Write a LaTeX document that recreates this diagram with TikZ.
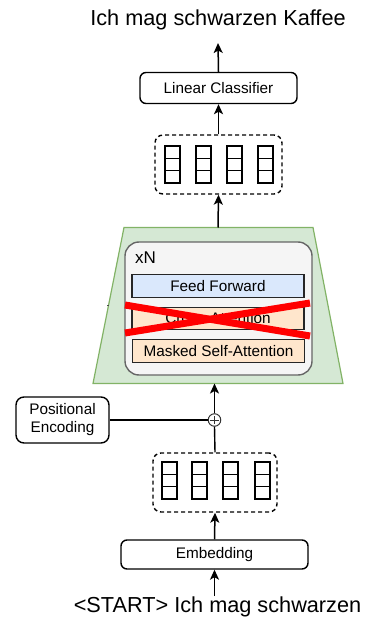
\documentclass[tikz,border=0pt]{standalone}
\usepackage{fontspec}
\setmainfont{Liberation Sans}
\usetikzlibrary{arrows.meta}
\definecolor{stackfill}{HTML}{D5E8D4}
\definecolor{stackline}{HTML}{82B366}
\definecolor{layerfill}{HTML}{F5F5F5}
\definecolor{layerline}{HTML}{666666}
\definecolor{ffill}{HTML}{DAE8FC}
\definecolor{attfill}{HTML}{FFE6CC}
\tikzset{
  x=1pt, y=-1pt,
  box/.style={draw=black, line width=1.4pt, rounded corners=6pt, fill=white,
    inner sep=0pt, font=\fontsize{15.3}{18}\selectfont, align=center},
  sublayer/.style={draw=black!85, line width=1.3pt, inner sep=0pt,
    minimum width=172pt, minimum height=22.5pt, font=\fontsize{15.3}{18}\selectfont},
  vecgroup/.style={draw=black, line width=1.4pt, dash pattern=on 4pt off 3pt,
    rounded corners=8pt, inner sep=0pt},
  bigtext/.style={font=\fontsize{21.7}{24}\selectfont, inner sep=0pt},
  flow/.style={line width=1.5pt, -{Stealth[length=10pt,width=9pt,inset=2.5pt]}},
  plain/.style={line width=1.4pt},
  cell/.style={draw=black, line width=1.4pt}
}
\begin{document}
\begin{tikzpicture}
\useasboundingbox (0,0) rectangle (365,628);

% output sentence and classifier
\node[bigtext, anchor=base] (out) at (218,26) {Ich mag schwarzen Kaffee};
\node[box, minimum width=157pt, minimum height=31pt] (cls) at (218.5,88) {Linear Classifier};

% decoder output vectors
\node[vecgroup, minimum width=127pt, minimum height=59pt] (vtop) at (218.5,164.5) {};
\foreach \x in {165,196,227,258}{
  \draw[cell] (\x,146) rectangle ++(15,37);
  \draw[cell] (\x,158.3) -- ++(15,0) (\x,170.7) -- ++(15,0);
}

% decoder stack
\coordinate (stacktop) at (218,227.5);
\coordinate (stackbot) at (214.5,383.5);
\draw[fill=stackfill, draw=stackline, line width=1.2pt]
  (124,227.5) -- (313,227.5) -- (343,383.5) -- (93,383.5) -- cycle;
\draw[line width=0.7pt, black!70] (107,305) -- (109,305);
\node[draw=layerline, fill=layerfill, line width=1.4pt, rounded corners=14pt,
  minimum width=187pt, minimum height=133pt, inner sep=0pt] (layer) at (218.5,308.5) {};
\node[font=\fontsize{17}{20}\selectfont, anchor=base west, inner sep=0pt] (rep) at (135,263) {xN};
\node[sublayer, fill=ffill] (ff) at (218,286) {Feed Forward};
\node[sublayer, fill=attfill] (cross) at (218,318.5) {Cross-Attention};
\node[sublayer, fill=attfill] (masked) at (218.5,351) {Masked Self-Attention};

% struck-out cross-attention
\coordinate (xa) at (125,305);
\coordinate (xb) at (310,336);
\coordinate (xc) at (125,333);
\coordinate (xd) at (310,303);
\draw[red, line width=7pt] (xa) -- (xb);
\draw[red, line width=7pt] (xc) -- (xd);

% positional encoding
\node[draw=black!80, fill=white, line width=1pt, circle, minimum size=12.5pt, inner sep=0pt] (sum) at (214.5,420) {};
\draw[line width=0.9pt, black!80] ([xshift=-4.2pt]sum.center) -- ([xshift=4.2pt]sum.center)
  ([yshift=-4.2pt]sum.center) -- ([yshift=4.2pt]sum.center);
\node[box, rounded corners=8pt, minimum width=93pt, minimum height=46pt] (pos) at (62.5,420)
  {Positional\\Encoding};

% embedded input vectors
\node[vecgroup, minimum width=124pt, minimum height=59pt] (vbot) at (215,482.5) {};
\foreach \x in {162,192,223,255}{
  \draw[cell] (\x,462) rectangle ++(15,37);
  \draw[cell] (\x,474.3) -- ++(15,0) (\x,486.7) -- ++(15,0);
}

% embedding and input sentence
\node[box, minimum width=187pt, minimum height=29pt] (emb) at (214.5,554.5) {Embedding};
\node[bigtext, anchor=base] (in) at (217.5,612) {<START> Ich mag schwarzen};
\coordinate (inarrow) at (214.5,596);

% connectors
\draw[flow] (inarrow) -- (emb.south);
\draw[flow] (emb.north) -- (vbot.south);
\draw[plain] (vbot.north) -- (sum.south);
\draw[plain] (pos.east) -- (sum.west);
\draw[flow] (sum.north) -- (stackbot);
\draw[flow] (stacktop) -- (vtop.south);
\draw[flow] (vtop.north) -- (cls.south);
\draw[flow] (cls.north) -- (218,43);
\end{tikzpicture}
\end{document}
